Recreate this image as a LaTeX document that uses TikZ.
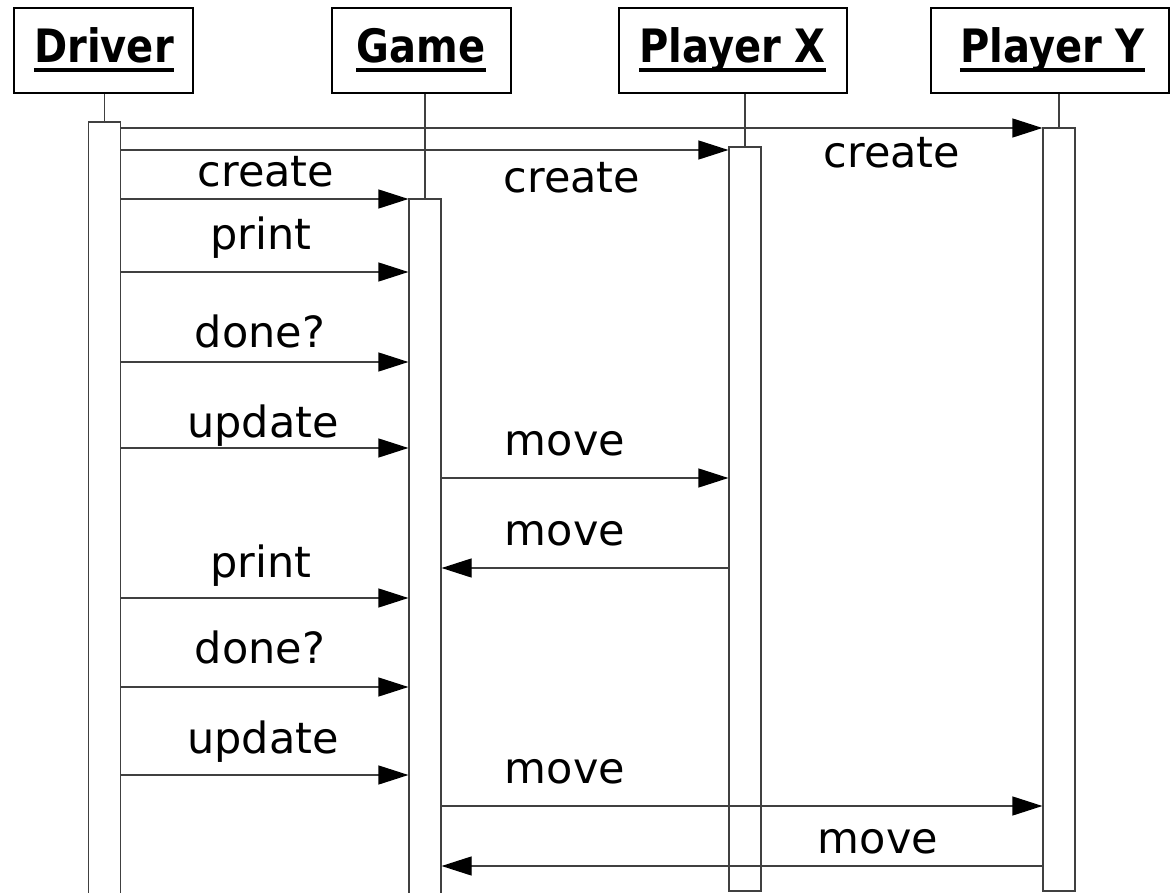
\documentclass[tikz,border=0pt]{standalone}
\usepackage{fontspec}
\setmainfont{DejaVu Sans}
\newfontfamily\hdrfont[FakeStretch=0.87]{DejaVu Sans Bold}
\usetikzlibrary{arrows.meta,calc}
\begin{document}
\begin{tikzpicture}[x=1pt,y=-1pt,
  hdrbox/.style={draw=black, line width=1.4pt, fill=white, inner sep=0pt, minimum height=85pt},
  hdrtext/.style={inner sep=0pt, anchor=base, font=\hdrfont\fontsize{46}{52}\selectfont},
  uline/.style={line width=3.4pt, black},
  act/.style={draw=black!75, line width=1.2pt, fill=white, inner sep=0pt, minimum width=32pt},
  life/.style={draw=black!75, line width=1.2pt},
  msg/.style={draw=black!75, line width=1.2pt, -{Triangle[length=30pt,width=19pt,fill=black,color=black]}},
  lbl/.style={inner sep=0pt, anchor=base, font=\fontsize{43}{50}\selectfont}
]
\useasboundingbox (0,0) rectangle (1170,893);
\fill[white] (0,0) rectangle (1170,893);

% header boxes
\node[hdrbox, minimum width=179pt] (drv) at (103.5,50.5) {};
\node[hdrbox, minimum width=179pt] (game) at (421.5,50.5) {};
\node[hdrbox, minimum width=228pt] (px) at (733,50.5) {};
\node[hdrbox, minimum width=238pt] (py) at (1050,50.5) {};

\node[hdrtext] (drvt) at (104,63) {Driver};
\node[hdrtext] (gamet) at (421,63) {Game};
\node[hdrtext] (pxt) at (732.5,63) {Player X};
\node[hdrtext] (pyt) at (1052.5,63) {Player Y};
\foreach \t in {drvt,gamet,pxt,pyt}{
  \draw[uline] ($(\t.base west)+(0,7)$) -- ($(\t.base east)+(0,7)$);
}

% activation boxes
\node[act, minimum height=778pt] (drvact) at (104.5,511) {};
\node[act, minimum height=701pt] (gameact) at (425,549.5) {};
\node[act, minimum height=744pt] (pxact) at (745,519) {};
\node[act, minimum height=763pt] (pyact) at (1059,509.5) {};

% lifelines
\draw[life] (drvact.north) -- (drvact.north |- drv.south);
\draw[life] (gameact.north) -- (gameact.north |- game.south);
\draw[life] (pxact.north) -- (pxact.north |- px.south);
\draw[life] (pyact.north) -- (pyact.north |- py.south);

% messages
\draw[msg] (drvact.east |- 0,128) -- (pyact.west |- 0,128);
\node[lbl] (m1) at (892,168) {create};
\draw[msg] (drvact.east |- 0,150) -- (pxact.west |- 0,150);
\node[lbl] (m2) at (572,193) {create};
\draw[msg] (drvact.east |- 0,199) -- (gameact.west |- 0,199);
\node[lbl] (m3) at (266,187) {create};
\draw[msg] (drvact.east |- 0,272) -- (gameact.west |- 0,272);
\node[lbl] (m4) at (261,250) {print};
\draw[msg] (drvact.east |- 0,362) -- (gameact.west |- 0,362);
\node[lbl] (m5) at (260,348) {done?};
\draw[msg] (drvact.east |- 0,448) -- (gameact.west |- 0,448);
\node[lbl] (m6) at (263,437) {update};
\draw[msg] (gameact.east |- 0,478) -- (pxact.west |- 0,478);
\node[lbl] (m7) at (565,455) {move};
\draw[msg] (pxact.west |- 0,568) -- (gameact.east |- 0,568);
\node[lbl] (m8) at (565,545) {move};
\draw[msg] (drvact.east |- 0,598) -- (gameact.west |- 0,598);
\node[lbl] (m9) at (261,577) {print};
\draw[msg] (drvact.east |- 0,687) -- (gameact.west |- 0,687);
\node[lbl] (m10) at (260,663) {done?};
\draw[msg] (drvact.east |- 0,775) -- (gameact.west |- 0,775);
\node[lbl] (m11) at (263,753) {update};
\draw[msg] (gameact.east |- 0,806) -- (pyact.west |- 0,806);
\node[lbl] (m12) at (565,783) {move};
\draw[msg] (pyact.west |- 0,866) -- (gameact.east |- 0,866);
\node[lbl] (m13) at (878,853) {move};
\end{tikzpicture}
\end{document}
